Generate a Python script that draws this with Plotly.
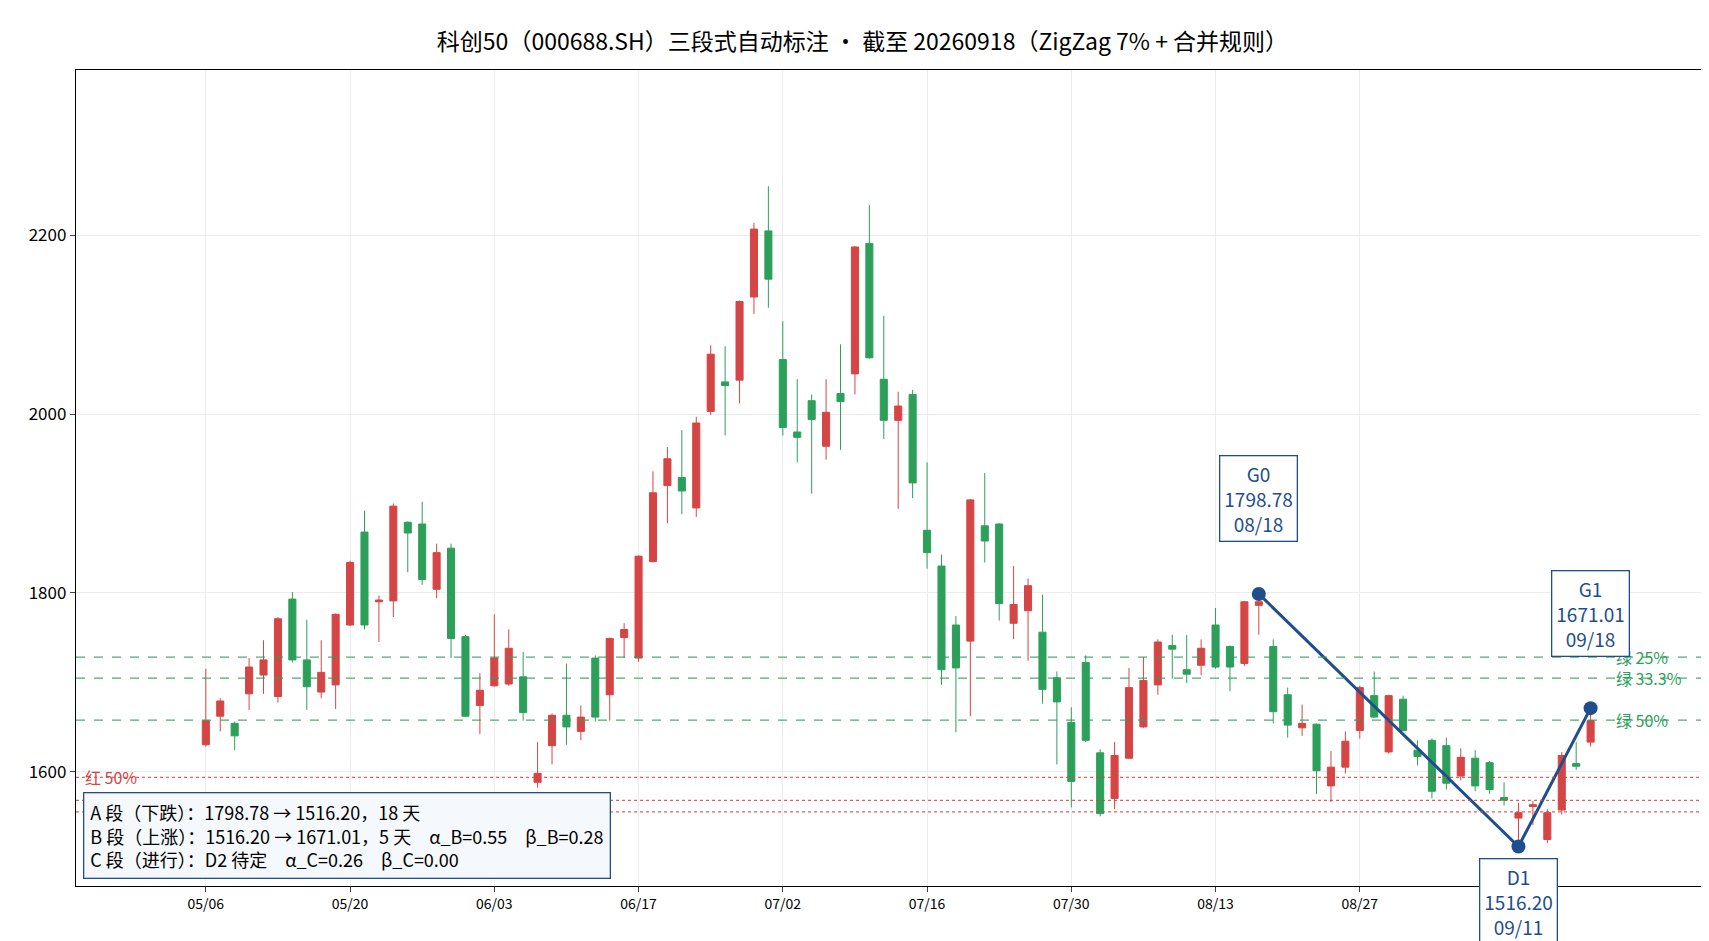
import plotly.graph_objects as go

# trading days 05/06 .. 09/18 (index 0..96)
dates = []
for m, days in [(5, [6, 7, 8, 11, 12, 13, 14, 15, 18, 19, 20, 21, 22, 25, 26, 27, 28, 29]),
                (6, [1, 2, 3, 4, 5, 8, 9, 10, 11, 12, 15, 16, 17, 18, 22, 23, 24, 25, 26, 29, 30]),
                (7, [1, 2, 3, 6, 7, 8, 9, 10, 13, 14, 15, 16, 17, 20, 21, 22, 23, 24, 27, 28, 29, 30, 31]),
                (8, [3, 4, 5, 6, 7, 10, 11, 12, 13, 14, 17, 18, 19, 20, 21, 24, 25, 26, 27, 28, 31]),
                (9, [1, 2, 3, 4, 7, 8, 9, 10, 11, 14, 15, 16, 17, 18])]:
    dates += [f"{m:02d}/{d:02d}" for d in days]

opens = [1630, 1662, 1654, 1687, 1708, 1684, 1793, 1725, 1689, 1697,
         1764, 1868, 1790, 1791, 1879, 1877, 1804, 1850, 1751, 1674,
         1696, 1698, 1706, 1588, 1629, 1663, 1645, 1727, 1686, 1750,
         1727, 1835, 1920, 1929, 1895, 2003, 2036, 2038, 2131, 2205,
         2061, 1980, 2015, 1964, 2023, 2045, 2191, 2039, 1993, 2022,
         1870, 1830, 1764, 1746, 1875, 1877, 1766, 1780, 1756, 1705,
         1655, 1722, 1621, 1570, 1615, 1650, 1697, 1741, 1714, 1719,
         1764, 1740, 1721, 1786, 1740, 1686, 1649, 1653, 1584, 1605,
         1646, 1685, 1622, 1681, 1624, 1635, 1629, 1595, 1615, 1610,
         1571, 1548, 1561, 1524, 1557, 1609, 1633]
closes = [1657, 1679, 1640, 1717, 1725, 1771, 1725, 1695, 1711, 1776,
          1834, 1764, 1792, 1897, 1867, 1815, 1845, 1749, 1662, 1691,
          1727, 1738, 1666, 1598, 1663, 1650, 1661, 1661, 1749, 1759,
          1841, 1912, 1950, 1914, 1990, 2067, 2032, 2126, 2207, 2151,
          1985, 1974, 1994, 2002, 2014, 2187, 2063, 1993, 2009, 1923,
          1845, 1714, 1716, 1904, 1858, 1788, 1787, 1808, 1692, 1678,
          1589, 1635, 1553, 1618, 1694, 1702, 1745, 1737, 1709, 1738,
          1717, 1717, 1790, 1790, 1667, 1652, 1654, 1601, 1605, 1634,
          1694, 1661, 1685, 1646, 1617, 1578, 1587, 1616, 1584, 1580,
          1568, 1554, 1563, 1554, 1618, 1606, 1657]
highs = [1715, 1682, 1656, 1727, 1747, 1773, 1801, 1770, 1747, 1777,
         1836, 1892, 1797, 1900, 1880, 1902, 1855, 1855, 1753, 1710,
         1776, 1759, 1734, 1633, 1665, 1721, 1674, 1730, 1750, 1766,
         1842, 1936, 1963, 1982, 1997, 2077, 2076, 2127, 2214, 2255,
         2104, 2039, 2022, 2039, 2078, 2188, 2234, 2110, 2025, 2027,
         1946, 1843, 1774, 1905, 1934, 1878, 1830, 1816, 1798, 1712,
         1672, 1730, 1625, 1633, 1716, 1728, 1748, 1753, 1753, 1748,
         1783, 1741, 1791, 1798.78, 1748, 1694, 1675, 1654, 1623, 1645,
         1696, 1712, 1686, 1685, 1635, 1637, 1638, 1626, 1624, 1612,
         1588, 1565, 1567, 1558, 1622, 1633, 1671.01]
lows = [1628, 1645, 1624, 1669, 1687, 1677, 1722, 1669, 1682, 1670,
        1763, 1759, 1745, 1773, 1823, 1809, 1794, 1727, 1661, 1642,
        1695, 1696, 1657, 1582, 1608, 1630, 1635, 1656, 1657, 1727,
        1723, 1834, 1878, 1888, 1885, 1999, 1976, 2012, 2112, 2119,
        1976, 1946, 1911, 1949, 1960, 2022, 2062, 1972, 1894, 1906,
        1827, 1697, 1644, 1662, 1834, 1769, 1748, 1724, 1676, 1608,
        1560, 1633, 1550, 1558, 1614, 1649, 1686, 1704, 1699, 1708,
        1715, 1690, 1718, 1753, 1654, 1638, 1640, 1575, 1566, 1598,
        1637, 1660, 1620, 1645, 1607, 1570, 1580, 1590, 1578, 1575,
        1562, 1516.20, 1540, 1520, 1552, 1602, 1628]

tick_idx = [0, 10, 20, 30, 40, 50, 60, 70, 80]
tick_text = [dates[i] for i in tick_idx]

pivot_names = ["G0", "D1", "G1"]
pivot_idx = [73, 91, 96]
pivot_vals = [1798.78, 1516.20, 1671.01]

green_labels = ["绿 25%", "绿 33.3%", "绿 50%"]
green_levels = [1728.14, 1704.58, 1657.49]
red_labels = ["红 50%", "红 33.3%", "红 25%"]
red_levels = [1593.61, 1567.80, 1554.90]

info_lines = ["A 段（下跌）：1798.78 → 1516.20，18 天",
              "B 段（上涨）：1516.20 → 1671.01，5 天　α_B=0.55　β_B=0.28",
              "C 段（进行）：D2 待定　α_C=0.26　β_C=0.00"]

RED = "#d64545"
GREEN = "#2ca05a"
BLUE = "#1f4e8c"
x = list(range(len(dates)))

fig = go.Figure()
fig.add_trace(go.Candlestick(
    x=x, open=opens, high=highs, low=lows, close=closes,
    increasing=dict(line=dict(color=RED, width=1), fillcolor=RED),
    decreasing=dict(line=dict(color=GREEN, width=1), fillcolor=GREEN),
    whiskerwidth=0, showlegend=False,
))
fig.add_trace(go.Scatter(
    x=pivot_idx, y=pivot_vals, mode="lines+markers",
    line=dict(color=BLUE, width=3), marker=dict(color=BLUE, size=14),
    showlegend=False,
))

for lvl in green_levels:
    fig.add_hline(y=lvl, line=dict(color=GREEN, width=1.3, dash="dash"), opacity=0.85)
for lvl in red_levels:
    fig.add_hline(y=lvl, line=dict(color=RED, width=1.3, dash="dot"), opacity=0.85)
for lbl, lvl in zip(green_labels, green_levels):
    fig.add_annotation(x=97.6, y=lvl, text=lbl, showarrow=False, xanchor="left",
                       yanchor="middle", font=dict(color=GREEN, size=16))
fig.add_annotation(x=-8.5, y=red_levels[0], text=red_labels[0], showarrow=False,
                   xanchor="left", yanchor="middle", font=dict(color=RED, size=16))

for name, i, v in zip(pivot_names, pivot_idx, pivot_vals):
    up = name.startswith("G")
    fig.add_annotation(
        x=i, y=v, text=f"{name}<br>{v:.2f}<br>{dates[i]}", showarrow=False,
        yshift=95 if up else -55, font=dict(color=BLUE, size=19),
        bgcolor="white", bordercolor=BLUE, borderwidth=1.3, borderpad=4,
    )

fig.add_annotation(
    x=0.004, y=0.008, xref="paper", yref="paper", xanchor="left", yanchor="bottom",
    text="<br>".join(info_lines), align="left", showarrow=False,
    font=dict(color="black", size=18), bgcolor="#f5f8fc",
    bordercolor=BLUE, borderwidth=1.3, borderpad=6,
)

fig.update_layout(
    width=1709, height=941,
    title=dict(text="科创50（000688.SH）三段式自动标注 · 截至 20260918（ZigZag 7% + 合并规则）",
               x=0.5, xanchor="center", y=0.972, font=dict(size=23, color="black")),
    font=dict(family="Noto Sans CJK SC, Noto Sans, sans-serif"),
    paper_bgcolor="white", plot_bgcolor="white",
    margin=dict(l=68, r=11, t=62, b=63),
    xaxis=dict(range=[-9, 104], tickvals=tick_idx, ticktext=tick_text,
               rangeslider=dict(visible=False), showgrid=True, gridcolor="#ececec",
               showline=True, linecolor="black", linewidth=1.3, mirror=True,
               ticks="outside", tickfont=dict(size=14, color="black"), zeroline=False),
    yaxis=dict(range=[1472, 2385], tickvals=[1600, 1800, 2000, 2200],
               showgrid=True, gridcolor="#ececec",
               showline=True, linecolor="black", linewidth=1.3, mirror=True,
               ticks="outside", tickfont=dict(size=17, color="black"), zeroline=False),
)

fig.write_html("out.html")
